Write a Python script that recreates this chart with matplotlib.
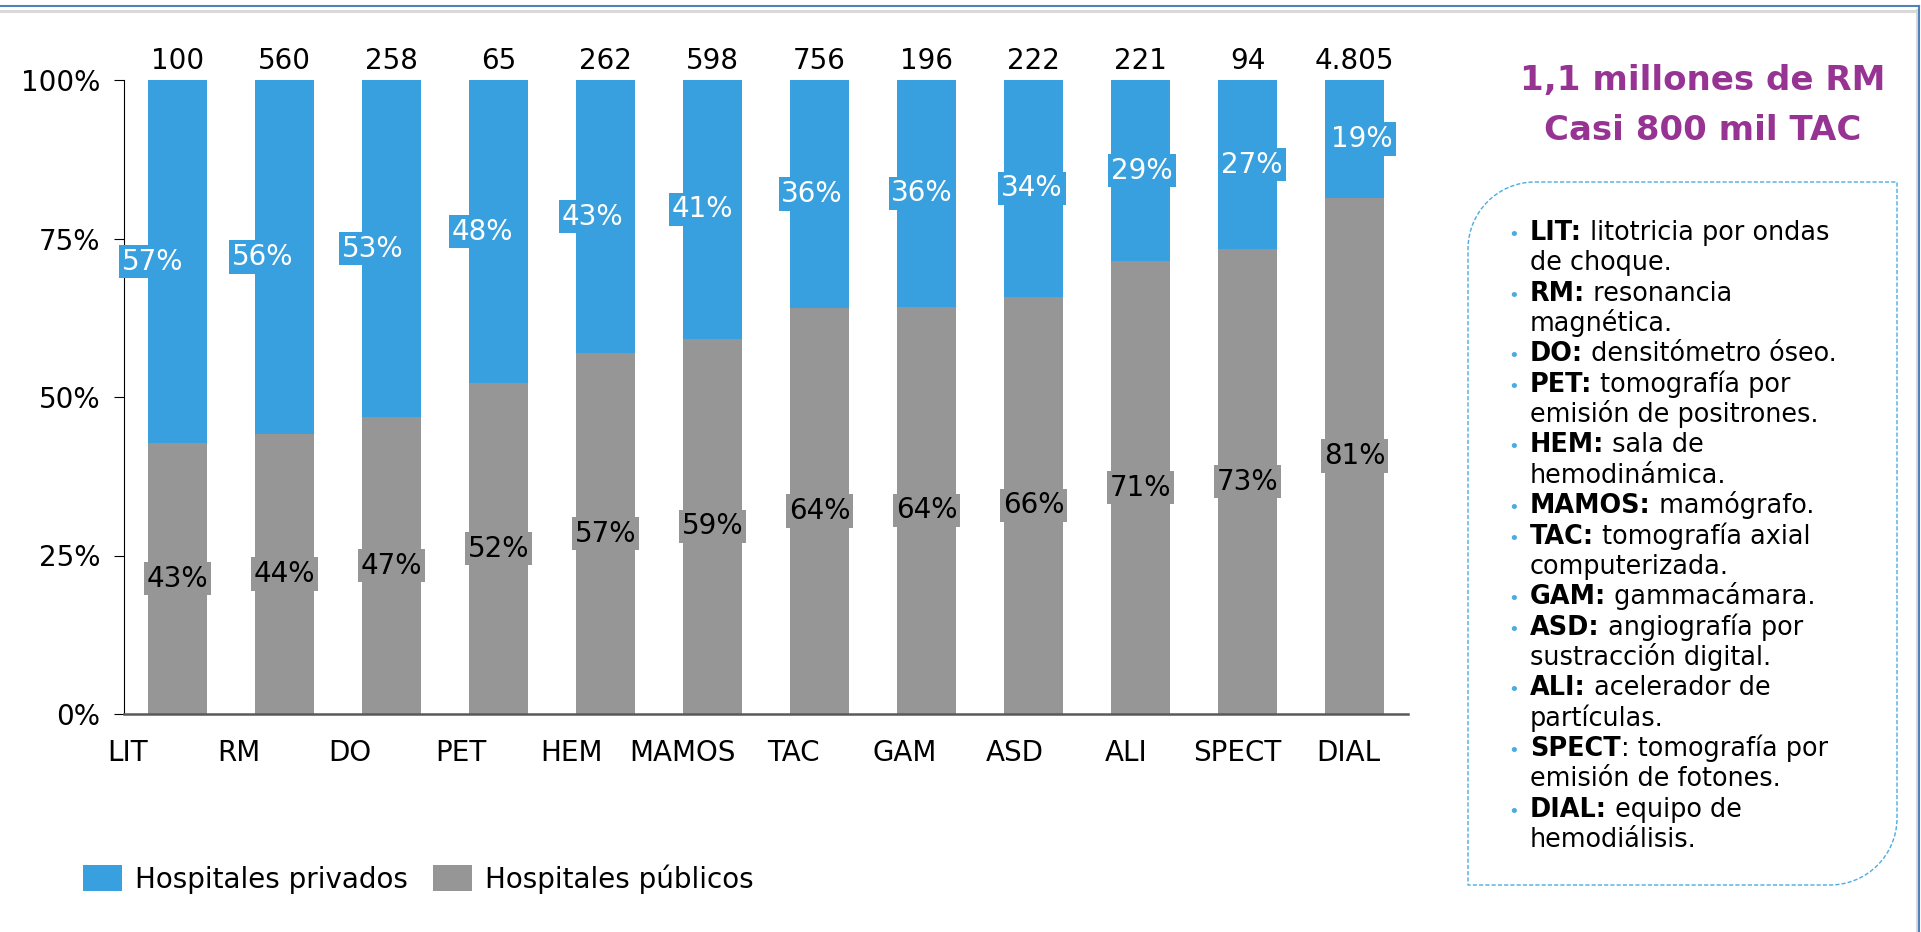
import matplotlib
matplotlib.use("Agg")
import matplotlib.pyplot as plt
import matplotlib.transforms as mtransforms
from matplotlib.path import Path
from matplotlib.patches import PathPatch
from matplotlib.lines import Line2D
import numpy as np

plt.rcParams['font.family'] = ['DejaVu Sans']

# ---------------- data ----------------
categories = ['LIT', 'RM', 'DO', 'PET', 'HEM', 'MAMOS', 'TAC', 'GAM', 'ASD', 'ALI', 'SPECT', 'DIAL']
totals = ['100', '560', '258', '65', '262', '598', '756', '196', '222', '221', '94', '4.805']
publicos = [42.7, 44.1, 46.8, 52.2, 56.9, 59.2, 64.0, 64.2, 65.8, 71.4, 73.3, 81.4]
privados = [100 - v for v in publicos]
series_names = ['Hospitales privados', 'Hospitales públicos']

title_lines = ['1,1 millones de RM', 'Casi 800 mil TAC']
glossary = [
    ('LIT:', ' litotricia por ondas', 'de choque.'),
    ('RM:', ' resonancia', 'magnética.'),
    ('DO:', ' densitómetro óseo.', None),
    ('PET:', ' tomografía por', 'emisión de positrones.'),
    ('HEM:', ' sala de', 'hemodinámica.'),
    ('MAMOS:', ' mamógrafo.', None),
    ('TAC:', ' tomografía axial', 'computerizada.'),
    ('GAM:', ' gammacámara.', None),
    ('ASD:', ' angiografía por', 'sustracción digital.'),
    ('ALI:', ' acelerador de', 'partículas.'),
    ('SPECT', ': tomografía por', 'emisión de fotones.'),
    ('DIAL:', ' equipo de', 'hemodiálisis.'),
]

# ---------------- style ----------------
BLUE = '#38A0DE'
GRAY = '#969696'
PURPLE = '#963393'
DASH = '#4BACE0'
FRAME = '#4F81BD'
FS = 20

W, H = 1921, 932
fig = plt.figure(figsize=(W / 100, H / 100), dpi=100)
px = mtransforms.Affine2D().scale(1 / W, -1 / H).translate(0, 1) + fig.transFigure

ax = fig.add_axes([124 / W, (H - 714) / H, 1284 / W, 634 / H])
x = np.arange(len(categories))
bw = 0.56
b_pub = ax.bar(x, publicos, width=bw, color=GRAY, label=series_names[1], zorder=2)
b_priv = ax.bar(x, privados, bottom=publicos, width=bw, color=BLUE, label=series_names[0], zorder=2)

ax.set_xlim(-0.5, 11.5)
ax.set_ylim(0, 100)
ax.set_yticks([0, 25, 50, 75, 100])
ax.set_yticklabels([f'{t}%' for t in [0, 25, 50, 75, 100]])
ax.tick_params(axis='y', length=7.2, width=0.8, pad=10, labelsize=FS, colors='black')

label_x = -0.467 + 1.037 * x
ax.set_xticks(label_x)
ax.set_xticklabels(categories)
ax.tick_params(axis='x', length=0, pad=18, labelsize=FS)

for s in ['top', 'right']:
    ax.spines[s].set_visible(False)
ax.spines['left'].set_color('black')
ax.spines['left'].set_linewidth(0.8)
ax.spines['bottom'].set_color('#595959')
ax.spines['bottom'].set_linewidth(1.8)

# in-bar labels
blue_x = -0.234 + 1.0276 * x
for i in range(len(categories)):
    pv, pr = publicos[i], privados[i]
    ax.text(x[i], pv / 2, f'{round(pv)}%', ha='center', va='center', fontsize=FS,
            color='black', zorder=3,
            bbox=dict(boxstyle='square,pad=0.1', fc=GRAY, ec='none'))
    ax.text(blue_x[i], pv + pr / 2, f'{round(pr)}%', ha='center', va='center', fontsize=FS,
            color='white', zorder=3,
            bbox=dict(boxstyle='square,pad=0.1', fc=BLUE, ec='none'))
    ax.annotate(totals[i], (x[i], 100), xytext=(0, 8), textcoords='offset points',
                ha='center', va='baseline', fontsize=FS, annotation_clip=False)

# legend
fig.legend([b_priv, b_pub], series_names, loc='center left',
           bbox_to_anchor=(83 / W, (H - 879) / H), ncol=2, frameon=False,
           fontsize=FS, handlelength=1.4, handleheight=1.08, handletextpad=0.47,
           columnspacing=0.9, borderpad=0, borderaxespad=0)

# right panel title
fig.text(1703, 90, title_lines[0], transform=px, ha='center', va='baseline',
         fontsize=24.5, fontweight='bold', color=PURPLE)
fig.text(1703, 140, title_lines[1], transform=px, ha='center', va='baseline',
         fontsize=24.5, fontweight='bold', color=PURPLE)

# dashed rounded box
x0, x1, y0, y1 = 1468, 1897, 182, 885
r = 67
k = 0.5523 * r
verts = [(x0 + r, y0), (x1, y0), (x1, y1 - r),
         (x1, y1 - r + k), (x1 - r + k, y1), (x1 - r, y1),
         (x0, y1), (x0, y0 + r),
         (x0, y0 + r - k), (x0 + r - k, y0), (x0 + r, y0),
         (x0 + r, y0)]
codes = [Path.MOVETO, Path.LINETO, Path.LINETO,
         Path.CURVE4, Path.CURVE4, Path.CURVE4,
         Path.LINETO, Path.LINETO,
         Path.CURVE4, Path.CURVE4, Path.CURVE4,
         Path.CLOSEPOLY]
box = PathPatch(Path(verts, codes), transform=px, fill=False, ec=DASH, lw=1.0,
                ls=(0, (3, 1.5)))
fig.add_artist(box)

# glossary
line_h = 30.35
yb = 240
tx = 1530
bx = 1514
GFS = 18.4
for bold, rest, cont in glossary:
    fig.text(bx, yb, '•', transform=px, ha='center', va='baseline', fontsize=13, color=DASH)
    bt = fig.text(tx, yb, bold, transform=px, ha='left', va='baseline', fontsize=GFS,
                  fontweight='bold', color='black')
    ax.annotate(rest, xy=(1, 0), xycoords=bt, ha='left', va='bottom', fontsize=GFS,
                color='black', annotation_clip=False)
    yb += line_h
    if cont:
        fig.text(tx, yb, cont, transform=px, ha='left', va='baseline', fontsize=GFS,
                 color='black')
        yb += line_h

# frame lines
fig.add_artist(Line2D([0, 1916], [10.5, 10.5], transform=px, color='#D9D9D9', lw=2.2))
fig.add_artist(Line2D([1916.5, 1916.5], [10, 932], transform=px, color='#D9D9D9', lw=1.5))
fig.add_artist(Line2D([0, 1919], [6, 6], transform=px, color=FRAME, lw=1.5))
fig.add_artist(Line2D([1919, 1919], [6, 932], transform=px, color=FRAME, lw=1.5))

fig.savefig('out.png', dpi=100)
